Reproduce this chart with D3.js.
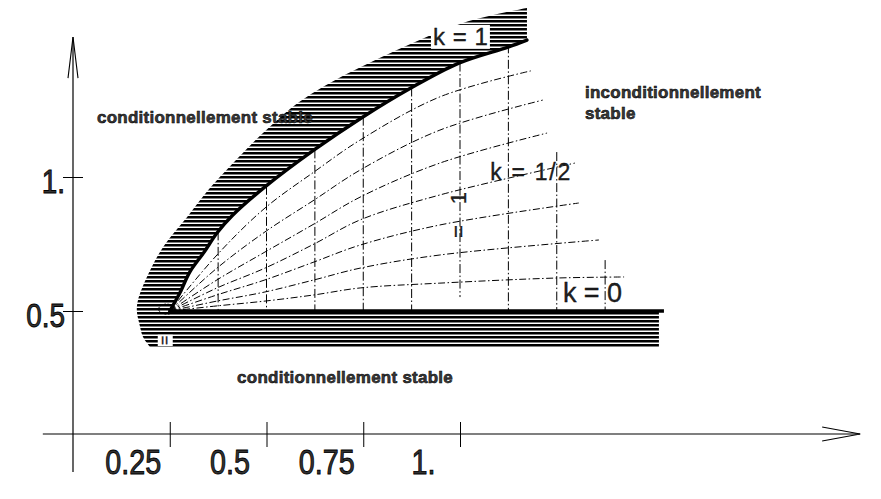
<!DOCTYPE html>
<html><head><meta charset="utf-8">
<script src="https://cdn.jsdelivr.net/npm/d3@7"></script>
<style>
html,body{margin:0;padding:0;background:#fff;}
svg{display:block;}
</style></head>
<body><svg id="chart" width="881" height="499"></svg>
<script>
// ---------- data (axis units) ----------
const xTickValues = [0.25, 0.5, 0.75, 1.0];
const xTickLabels = ["0.25", "0.5", "0.75", "1."];
const yTickValues = [0.5, 1.0];
const yTickLabels = ["0.5", "1."];

const xAxisExtent = [-0.078, 2.034];
const xAxisLevel = 0.041;
const yAxisExtent = [-0.101, 1.522];

const originPoint = [0.242, 0.507];

// stability boundary k = 1 (thick curve)
const boundaryK1 = [[0.25,0.5],[0.276,0.567],[0.302,0.646],[0.339,0.720],[0.372,0.791],[0.413,0.858],
  [0.496,0.963],[0.623,1.101],[0.749,1.224],[0.873,1.332],[0.997,1.425],[1.124,1.485],[1.173,1.511]];
// boundary k = 0 (thick horizontal line)
const boundaryK0 = [[0.25,0.5],[1.527,0.5]];

// hatched zone: outer edge from bottom-left round corner to top end
const bandOuter = [[0.199,0.366],[0.181,0.403],[0.171,0.455],[0.165,0.5],[0.168,0.541],[0.191,0.627],
  [0.233,0.739],[0.295,0.851],[0.349,0.951],[0.439,1.090],[0.491,1.164],[0.574,1.269],[0.664,1.351],
  [0.837,1.474],[1.008,1.575],[1.173,1.631]];
const bandRight = [[1.514,0.5],[1.514,0.366]];

// family of k-curves (dash-dot), from k ~ 1 down to k = 0
const kCurves = [
  [[0.25,0.5],[0.372,0.709],[0.496,0.884],[0.623,1.019],[0.742,1.138],[0.948,1.299],[1.183,1.396]],
  [[0.25,0.5],[0.372,0.660],[0.496,0.795],[0.623,0.914],[0.742,1.026],[0.948,1.175],[1.214,1.287]],
  [[0.25,0.5],[0.372,0.616],[0.496,0.720],[0.623,0.825],[0.742,0.925],[0.948,1.052],[1.225,1.164]],
  [[0.25,0.5],[0.372,0.586],[0.496,0.660],[0.623,0.750],[0.742,0.840],[0.948,0.933],[1.297,1.052]],
  [[0.25,0.5],[0.372,0.560],[0.496,0.616],[0.623,0.683],[0.742,0.746],[0.948,0.821],[1.307,0.903]],
  [[0.25,0.5],[0.372,0.537],[0.496,0.571],[0.623,0.616],[0.742,0.660],[0.948,0.709],[1.359,0.765]],
  [[0.25,0.5],[0.372,0.519],[0.496,0.537],[0.623,0.560],[0.742,0.586],[0.948,0.604],[1.248,0.623],[1.424,0.627]]
];

// vertical dash-dot lines
const vLineX      = [0.375, 0.5,   0.625, 0.75,  0.875, 1.0,   1.125, 1.25,  1.375];
const vLineTop    = [0.797, 0.967, 1.103, 1.225, 1.334, 1.427, 1.495, 1.093, 0.690];
const vLineBottom = [0.5,   0.5,   0.5,   0.5,   0.5,   0.552, 0.5,   0.5,   0.5];

// annotations (anchor in axis units)
const regionLabels = [
  {text:"conditionnellement stable", x:0.062, y:1.201},
  {text:"conditionnellement stable", x:0.424, y:0.231},
  {text:"inconditionnellement", x:1.323, y:1.295},
  {text:"stable", x:1.323, y:1.217}
];
const kLabels = [
  {text:"k = 1",   x:0.930, y:1.493, size:24, len:55, bg:true},
  {text:"k = 1/2", x:1.078, y:0.989, size:23, len:80, bg:false},
  {text:"k = 0",   x:1.266, y:0.534, size:27, len:59, bg:false}
];
const rotLabels = [
  {text:"= 1", x:1.0155, y:0.772, size:22, len:46, bg:false},
  {text:"=",   x:0.250,  y:0.373, size:16, len:0,  bg:true}
];

// ---------- drawing ----------
const svg = d3.select("#chart");
const x = d3.scaleLinear().domain([0, 1]).range([73, 460]);
const y = d3.scaleLinear().domain([0.5, 1]).range([311, 177]);
const SANS = "'Liberation Sans',Arial,sans-serif";

// condense text glyphs horizontally (narrow face look)
function condense(sel, f) {
  sel.each(function(){
    const w = this.getComputedTextLength();
    d3.select(this).attr("textLength", w*f).attr("lengthAdjust","spacingAndGlyphs");
  });
}

const defs = svg.append("defs");
defs.append("pattern").attr("id","hatch").attr("patternUnits","userSpaceOnUse")
  .attr("width",8).attr("height",4)
  .append("rect").attr("width",8).attr("height",2.5).attr("fill","#000");

const lineCR = d3.line().x(d=>x(d[0])).y(d=>y(d[1])).curve(d3.curveCatmullRom.alpha(0.5));
const lineL = d3.line().x(d=>x(d[0])).y(d=>y(d[1]));

// hatched zone
const pBand = lineL(bandRight) + lineCR(bandOuter).replace(/^M/,"L") +
  lineCR(boundaryK1.slice().reverse()).replace(/^M/,"L") + "Z";
svg.append("path").attr("d", pBand).attr("fill","url(#hatch)").attr("stroke","none");

// k curves
svg.append("g").selectAll("path").data(kCurves).join("path")
  .attr("d", lineCR).attr("fill","none").attr("stroke","#000").attr("stroke-width",1)
  .attr("stroke-dasharray","7,2.5,1.5,2.5");

// vertical lines
svg.append("g").selectAll("line").data(vLineX).join("line")
  .attr("x1", d=>x(d)).attr("x2", d=>x(d))
  .attr("y1", (d,i)=>y(vLineTop[i])).attr("y2", (d,i)=>y(vLineBottom[i]))
  .attr("stroke","#000").attr("stroke-width",1).attr("stroke-dasharray","9,2.5,1.5,2.5");

// thick boundaries
svg.append("path").attr("d", lineCR(boundaryK1)).attr("fill","none")
  .attr("stroke","#000").attr("stroke-width",3.4).attr("stroke-linecap","round");
svg.append("path").attr("d", lineL(boundaryK0)).attr("fill","none")
  .attr("stroke","#000").attr("stroke-width",3.4);

// origin marker
svg.append("ellipse").attr("cx", x(originPoint[0])).attr("cy", y(originPoint[1]))
  .attr("rx",8).attr("ry",5).attr("fill","none").attr("stroke","#000")
  .attr("stroke-width",1).attr("stroke-dasharray","2,1.5");

// axes
const axisY0 = y(xAxisLevel);
const gx = svg.append("g").attr("transform",`translate(0,${axisY0})`)
  .call(d3.axisBottom(x).tickValues(xTickValues).tickFormat((d,i)=>xTickLabels[i]).tickSize(13));
gx.select(".domain").remove();
gx.selectAll(".tick line").attr("y1",-12).attr("stroke","#000");
gx.selectAll(".tick text").attr("x",-37).attr("y",40).attr("dy",null)
  .attr("font-family",SANS).attr("font-size",35).attr("fill","#333")
  .attr("stroke","#000").attr("stroke-width",0.9)
  .call(condense, 0.82);

const gy = svg.append("g").attr("transform",`translate(${x(0)},0)`)
  .call(d3.axisLeft(y).tickValues(yTickValues).tickFormat((d,i)=>yTickLabels[i]).tickSize(10));
gy.select(".domain").remove();
gy.selectAll(".tick line").attr("x2",-10).attr("x1",10).attr("stroke","#000");
gy.selectAll(".tick text").attr("x",-8).attr("y",15).attr("dy",null).attr("text-anchor","end")
  .attr("font-family",SANS).attr("font-size",34).attr("fill","#333")
  .attr("stroke","#000").attr("stroke-width",0.9)
  .call(condense, 0.82);

// axis lines with open arrows
const xa0 = x(xAxisExtent[0]), xa1 = x(xAxisExtent[1]);
svg.append("line").attr("x1",xa0).attr("x2",xa1).attr("y1",axisY0).attr("y2",axisY0)
  .attr("stroke","#000").attr("stroke-width",1.2);
svg.append("path").attr("d",`M${xa1-38},${axisY0-7}L${xa1},${axisY0}L${xa1-38},${axisY0+7}`)
  .attr("fill","none").attr("stroke","#000").attr("stroke-width",1.1);
const ya0 = y(yAxisExtent[0]), ya1 = y(yAxisExtent[1]);
svg.append("line").attr("x1",x(0)).attr("x2",x(0)).attr("y1",ya0).attr("y2",ya1)
  .attr("stroke","#000").attr("stroke-width",1.2);
svg.append("path").attr("d",`M${x(0)-5},${ya1+41}L${x(0)},${ya1}L${x(0)+5},${ya1+41}`)
  .attr("fill","none").attr("stroke","#000").attr("stroke-width",1.1);

// region labels
svg.append("g").selectAll("text").data(regionLabels).join("text")
  .attr("x", d=>x(d.x)).attr("y", d=>y(d.y)).text(d=>d.text)
  .attr("font-family",SANS).attr("font-weight","bold").attr("font-size",17)
  .attr("letter-spacing",0.25)
  .attr("fill","#3a3a3a").attr("stroke","#000").attr("stroke-width",0.55);

// k labels
kLabels.forEach(d=>{
  const g = svg.append("g");
  const t = g.append("text").attr("x", x(d.x)).attr("y", y(d.y)).text(d.text)
    .attr("font-family",SANS).attr("font-size",d.size).attr("fill","#222")
    .attr("stroke","#000").attr("stroke-width",0.3)
    .attr("textLength",d.len).attr("lengthAdjust","spacing");
  if (d.bg) {
    const b = t.node().getBBox();
    g.insert("rect","text").attr("x",b.x-2).attr("y",b.y+2).attr("width",b.width+4)
      .attr("height",b.height-3).attr("fill","#fff");
  }
});

// rotated small labels
rotLabels.forEach(d=>{
  const g = svg.append("g").attr("transform",`translate(${x(d.x)},${y(d.y)}) rotate(-90)`);
  const t = g.append("text").attr("x",0).attr("y",0).text(d.text)
    .attr("font-family",SANS).attr("font-size",d.size).attr("fill","#222")
    .attr("stroke","#000").attr("stroke-width",0.3);
  if (d.len) t.attr("textLength",d.len).attr("lengthAdjust","spacing");
  if (d.bg) {
    const b = t.node().getBBox();
    g.insert("rect","text").attr("x",b.x-1).attr("y",b.y+2).attr("width",b.width+2)
      .attr("height",b.height-2).attr("fill","#fff");
  }
});
</script>
</body></html>
